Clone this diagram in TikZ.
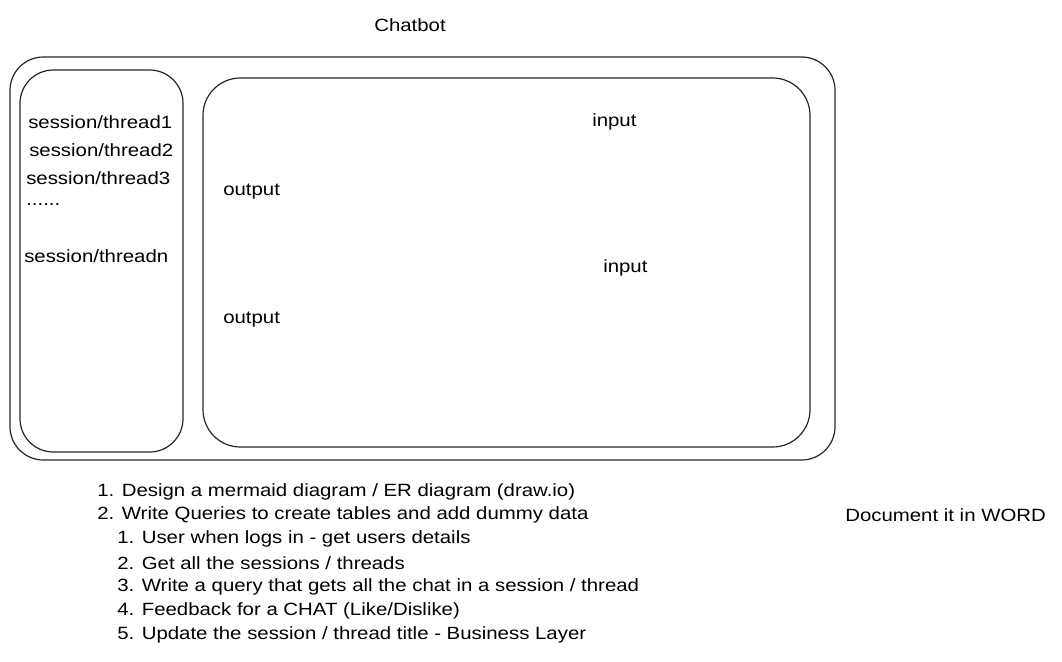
\documentclass[tikz,border=0pt]{standalone}
\usepackage{fontspec}
\setmainfont[FakeStretch=1.15]{Liberation Sans}
\usepackage{tikz}
\usetikzlibrary{positioning}
\tikzset{
  % --- khung ---
  frame/.style={draw, line width=0.9pt, black!85},
  % --- chu ---
  lbl/.style={anchor=west, inner sep=0pt, font=\fontsize{13.3}{15}\selectfont},
  lblc/.style={anchor=center, inner sep=0pt, font=\fontsize{13.3}{15}\selectfont}
}
\begin{document}
\begin{tikzpicture}[x=0.75pt, y=-0.75pt]
  \useasboundingbox (0,0) rectangle (1062,661);

  \node[lblc] (title) at (410,25) {Chatbot};

  % --- khung ngoai va hai khung trong ---
  \draw[frame, rounded corners=25] (10,57) rectangle (835,460);
  \draw[frame, rounded corners=25] (20,70) rectangle (183,452);
  \draw[frame, rounded corners=28] (203,78) rectangle (810,447);

  % --- danh sach phien ---
  \node[lbl] (t1) at (28,122) {session/thread1};
  \node[lbl] (t2) at (29,150) {session/thread2};
  \node[lbl] (t3) at (26,178) {session/thread3};
  \node[lbl] (tdots) at (26,205) {......};
  \node[lbl] (tn) at (24,256) {session/threadn};

  % --- khung hoi thoai ---
  \node[lbl] (in1) at (592,122) {input};
  \node[lbl] (out1) at (223,192) {output};
  \node[lbl] (in2) at (603,268) {input};
  \node[lbl] (out2) at (223,320) {output};

  % --- cong viec ---
  \node[lbl] (s1) at (97,492) {1. Design a mermaid diagram / ER diagram (draw.io)};
  \node[lbl] (s2) at (97,515) {2. Write Queries to create tables and add dummy data};
  \node[lbl] (s21) at (117,539) {1. User when logs in - get users details};
  \node[lbl] (s22) at (117,563) {2. Get all the sessions / threads};
  \node[lbl] (s23) at (117,587) {3. Write a query that gets all the chat in a session / thread};
  \node[lbl] (s24) at (117,611) {4. Feedback for a CHAT (Like/Dislike)};
  \node[lbl] (s25) at (117,635) {5. Update the session / thread title - Business Layer};

  \node[lbl] (doc) at (845,515) {Document it in WORD};
\end{tikzpicture}
\end{document}
